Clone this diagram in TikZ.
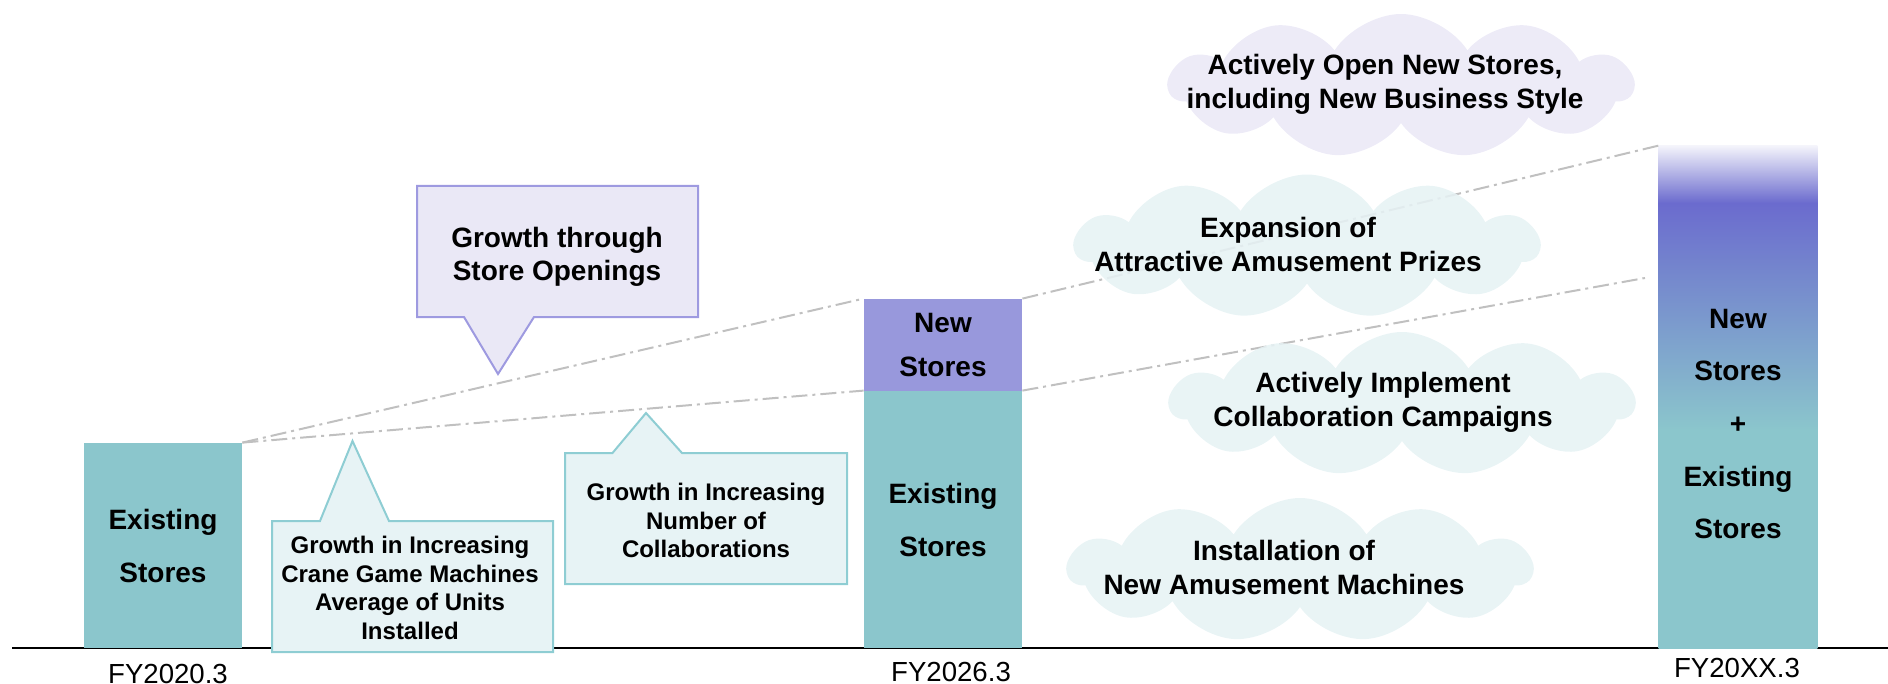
\documentclass[tikz,border=0pt]{standalone}
\usepackage{fontspec}
\setmainfont{Liberation Sans}
\usetikzlibrary{shapes.symbols,calc}

\definecolor{barteal}{HTML}{8BC6CC}
\definecolor{barpurple}{HTML}{9898DC}
\definecolor{deeppurple}{HTML}{6B6BCE}
\definecolor{midblue}{HTML}{7994CD}
\definecolor{paletop}{HTML}{F4F4FB}
\definecolor{cloudteal}{HTML}{E6F2F4}
\definecolor{cloudlav}{HTML}{EAE8F6}
\definecolor{lavborder}{HTML}{9E9AE0}
\definecolor{tealborder}{HTML}{8ECDD3}
\definecolor{calloutteal}{HTML}{E7F3F5}
\definecolor{trendgray}{HTML}{C0C0C0}

% fade from teal at the bottom through blue to deep purple, pale at the very top
\pgfdeclareverticalshading{futurebar}{100bp}{
  color(0bp)=(barteal); color(25bp)=(barteal); color(46.7bp)=(barteal);
  color(59bp)=(midblue); color(69.3bp)=(deeppurple);
  color(75bp)=(paletop); color(100bp)=(paletop)}

\tikzset{
  bar/.style={rectangle, draw=none, inner sep=0pt, minimum width=79pt,
    align=center, font=\bfseries\fontsize{14pt}{26.5pt}\selectfont},
  bigtext/.style={align=center, inner sep=0pt, font=\bfseries\fontsize{14pt}{17pt}\selectfont},
  smalltext/.style={align=center, inner sep=0pt, font=\bfseries\fontsize{12pt}{14.3pt}\selectfont},
  yearlabel/.style={anchor=base, inner sep=0pt, font=\fontsize{13.8pt}{16pt}\selectfont},
  trend/.style={trendgray, line width=1pt, dash pattern=on 8pt off 2.5pt on 1.5pt off 2.5pt},
  puff/.style={cloud, cloud puffs=11, cloud puff arc=115, cloud ignores aspect,
    minimum width=232pt, minimum height=72pt, inner sep=0pt, draw=none, fill opacity=0.88},
}

\begin{document}
\begin{tikzpicture}[x=0.5pt,y=-0.5pt]
\useasboundingbox (0,0) rectangle (1888,684);

% ground line
\coordinate (gl) at (12,648);
\coordinate (gr) at (1888,648);
\draw[line width=1.25pt, black] (gl) -- (gr);

% bars
\node[bar, fill=barteal, minimum height=102.5pt] (b1) at (163,545.5) {Existing\\Stores};
\node[bar, fill=barpurple, minimum height=46pt,
  font=\bfseries\fontsize{14pt}{22.3pt}\selectfont] (b2n) at (943,345) {New\\Stores};
\node[bar, fill=barteal, minimum height=128.5pt] (b2e) at (943,519.5) {Existing\\Stores};
\node[bar, minimum height=251pt] (b3) at (1738,397) {};
\shade[shading=futurebar] (b3.north west) rectangle (b3.south east);
\node[bar, font=\bfseries\fontsize{14pt}{26.3pt}\selectfont] (b3t) at (1738,424)
  {New\\Stores\\+\\Existing\\Stores};

% trend lines
\coordinate (lowend) at (1645,278);
\draw[trend] (b1.north east) -- (b2n.north west);
\draw[trend] (b1.north east) -- (b2e.north west);
\draw[trend] (b2n.north east) -- (b3.north west);
\draw[trend] (b2e.north east) -- (lowend);

% callouts
\draw[line width=1pt, draw=lavborder, fill=cloudlav]
  (417,186) -- (698,186) -- (698,317) -- (534,317) -- (498,374) -- (464,317) -- (417,317) -- cycle;
\node[bigtext, font=\bfseries\fontsize{14pt}{16.5pt}\selectfont] (c1) at (557,257)
  {Growth through\\Store Openings};

\draw[line width=1pt, draw=tealborder, fill=calloutteal]
  (272,521) -- (320,521) -- (352.5,441) -- (389,521) -- (553,521) -- (553,652) -- (272,652) -- cycle;
\node[smalltext] (c2) at (410,588)
  {Growth in Increasing\\Crane Game Machines\\Average of Units\\Installed};

\draw[line width=1pt, draw=tealborder, fill=calloutteal]
  (565,453) -- (612.5,453) -- (646,413) -- (682,453) -- (847,453) -- (847,584) -- (565,584) -- cycle;
\node[smalltext] (c3) at (706,520.5)
  {Growth in Increasing\\Number of\\Collaborations};

% clouds
\node[puff, fill=cloudlav] (k1) at (1401,86) {};
\node[puff, fill=cloudteal] (k2) at (1307,246.5) {};
\node[puff, fill=cloudteal] (k3) at (1402,404) {};
\node[puff, fill=cloudteal] (k4) at (1300,570) {};
\node[bigtext] (t1) at (1385,84) {Actively Open New Stores,\\including New Business Style};
\node[bigtext] (t2) at (1288,244) {Expansion of\\Attractive Amusement Prizes};
\node[bigtext] (t3) at (1383,402) {Actively Implement\\Collaboration Campaigns};
\node[bigtext] (t4) at (1284,567) {Installation of\\New Amusement Machines};

% year labels
\node[yearlabel] (y1) at (168,683) {FY2020.3};
\node[yearlabel] (y2) at (951,681) {FY2026.3};
\node[yearlabel] (y3) at (1737,677) {FY20XX.3};
\end{tikzpicture}
\end{document}
